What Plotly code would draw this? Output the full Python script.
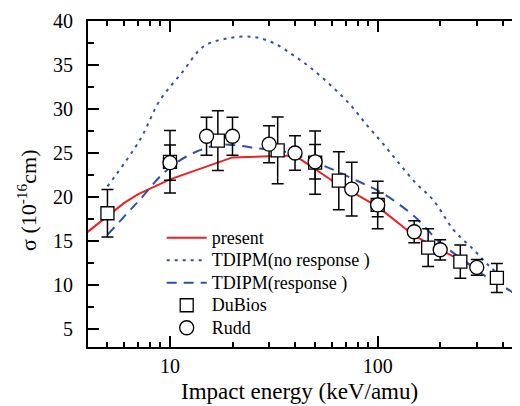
import plotly.graph_objects as go
import numpy as np

# --- data ---
present_E = [4, 5, 6, 7, 10, 20, 40, 60, 100, 150, 200, 300]
present_s = [16.0, 17.8, 19.3, 20.3, 22.0, 24.5, 24.7, 21.9, 18.9, 15.6, 14.0, 11.9]

norsp_E = [5, 7.17, 8.95, 11.4, 14.5, 18.7, 25, 31.5, 39.3, 48, 60, 74, 88.5, 106.5, 127.5, 153, 185, 232, 290, 346, 400]
norsp_s = [21.2, 26.5, 31.0, 34.1, 37.1, 38.0, 38.2, 37.5, 36.1, 34.6, 32.6, 30.45, 28.2, 26.0, 23.75, 21.55, 19.66, 16.25, 14.0, 12.1, 10.9]

rsp_E = [5, 6.66, 7.17, 9.3, 12, 16.8, 20, 27, 38, 57, 82, 106, 150, 200, 260, 330, 400, 480]
rsp_s = [15.7, 18.9, 19.7, 22.7, 24.6, 25.9, 25.9, 25.5, 25.0, 23.4, 21.7, 20.4, 17.8, 14.8, 12.8, 11.0, 9.9, 8.6]

dubois_E = [5, 10, 17, 33, 50, 65, 100, 175, 250, 375, 500]
dubois_s = [18.15, 24.0, 26.4, 25.3, 23.9, 21.85, 19.1, 14.25, 12.65, 10.8, 9.6]
dubois_err = [2.7, 3.55, 3.4, 3.8, 3.6, 3.3, 2.7, 2.15, 1.9, 1.65, 1.3]

rudd_E = [10, 15, 20, 30, 40, 50, 75, 100, 150, 200, 300]
rudd_s = [23.9, 26.9, 26.9, 26.0, 25.0, 24.0, 20.9, 19.1, 16.05, 14.0, 12.0]
rudd_err = [2.0, 2.15, 2.15, 2.1, 1.95, 1.95, 3.05, 1.35, 1.25, 1.15, 0.9]

series_names = ["present", "TDIPM(no response )", "TDIPM(response )", "DuBios", "Rudd"]

x_major = [10, 100]
x_minor = [5, 6, 7, 8, 9, 20, 30, 40, 50, 60, 70, 80, 90, 200, 300, 400, 500]
y_major = [5, 10, 15, 20, 25, 30, 35, 40]
y_minor = [7.5, 12.5, 17.5, 22.5, 27.5, 32.5, 37.5]

RED = "#EE2020"
BLUE = "#3050A8"
FONT = "Times New Roman, Liberation Serif, DejaVu Serif, serif"

# plot area: 452 px wide (the right part runs past the visible window, as in the reference)
X_LO = np.log10(4.03)
X_HI = X_LO + 452 / 207.7


def lg(name):
    return '<span style="font-size:18px">' + name + "</span>"


fig = go.Figure()
fig.add_trace(go.Scatter(x=present_E, y=present_s, mode="lines", name=lg(series_names[0]),
                         line=dict(color=RED, width=2)))
fig.add_trace(go.Scatter(x=norsp_E, y=norsp_s, mode="lines", name=lg(series_names[1]),
                         line=dict(color=BLUE, width=2, dash="3px,5px", shape="spline")))
fig.add_trace(go.Scatter(x=rsp_E, y=rsp_s, mode="lines", name=lg(series_names[2]),
                         line=dict(color=BLUE, width=2, dash="10px,7px", shape="spline")))
fig.add_trace(go.Scatter(x=dubois_E, y=dubois_s, mode="markers", name=lg(series_names[3]),
                         marker=dict(symbol="square", size=13, color="white",
                                     line=dict(color="black", width=1.3)),
                         error_y=dict(type="data", array=dubois_err, color="black",
                                      thickness=1.5, width=6)))
fig.add_trace(go.Scatter(x=rudd_E, y=rudd_s, mode="markers", name=lg(series_names[4]),
                         marker=dict(symbol="circle", size=14, color="white",
                                     line=dict(color="black", width=1.3)),
                         error_y=dict(type="data", array=rudd_err, color="black",
                                      thickness=1.5, width=6)))

fig.update_layout(
    width=540, height=406,
    margin=dict(l=80, r=8, t=13, b=67, autoexpand=False),
    paper_bgcolor="white", plot_bgcolor="white",
    font=dict(family=FONT, color="black", size=20),
    showlegend=True,
    legend=dict(x=(161.7 - 88) / 452, y=0.385, xanchor="left", yanchor="top",
                bgcolor="rgba(0,0,0,0)", font=dict(family=FONT, size=15, color="black"),
                tracegroupgap=0, itemwidth=40),
    xaxis=dict(type="log", range=[X_LO, X_HI], automargin=False,
               showgrid=False, zeroline=False,
               showline=True, linecolor="black", linewidth=2, mirror="allticks",
               ticks="inside", ticklen=11, tickwidth=1.5, tickcolor="black",
               tickvals=x_major, ticktext=[str(v) for v in x_major],
               ticklabelstandoff=0,
               tickfont=dict(family=FONT, size=20, color="black"),
               minor=dict(tickvals=x_minor, ticks="inside", ticklen=5,
                          tickwidth=1.5, tickcolor="black", showgrid=False)),
    yaxis=dict(range=[2.95, 40], automargin=False, showgrid=False, zeroline=False,
               showline=True, linecolor="black", linewidth=2, mirror=False,
               ticks="inside", ticklen=11, tickwidth=1.5, tickcolor="black",
               tickvals=y_major, ticktext=[str(v) for v in y_major],
               ticklabelstandoff=9,
               tickfont=dict(family=FONT, size=20, color="black"),
               minor=dict(tickvals=y_minor, ticks="inside", ticklen=6,
                          tickwidth=1.5, tickcolor="black", showgrid=False)),
    annotations=[
        dict(text="Impact energy (keV/amu)", xref="paper", yref="paper",
             x=(299 - 88) / 452, y=-0.138, xanchor="center", yanchor="middle", showarrow=False,
             font=dict(family=FONT, size=23, color="black")),
        dict(text="σ (10<sup>-16</sup>cm)", xref="paper", yref="paper",
             x=(27 - 88) / 452, y=0.448, xanchor="center", yanchor="middle", showarrow=False,
             textangle=-90, font=dict(family=FONT, size=22, color="black")),
    ],
)

fig.write_html("out.html")
